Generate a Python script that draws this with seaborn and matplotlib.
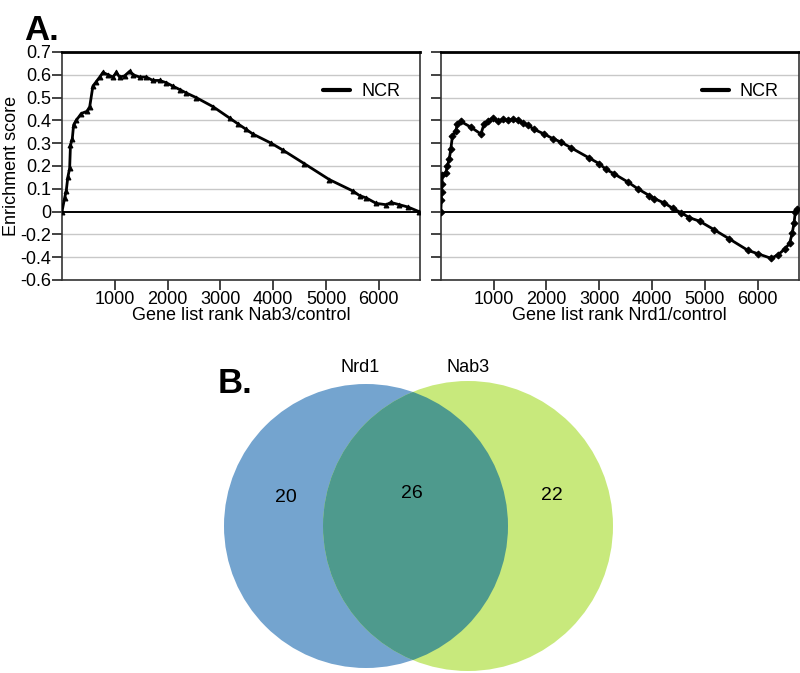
import numpy as np
import matplotlib
matplotlib.use("Agg")
import matplotlib.pyplot as plt
import seaborn as sns
from matplotlib.lines import Line2D
from matplotlib.patches import Circle

sns.set_style("white")
plt.rcParams['font.family'] = ['Liberation Sans', 'DejaVu Sans']
plt.rcParams['text.color'] = 'black'
plt.rcParams['axes.labelcolor'] = 'black'
plt.rcParams['xtick.color'] = 'black'
plt.rcParams['ytick.color'] = 'black'

# Running enrichment score, NCR gene set, Nab3/control ranking
nab3_rank = [0, 50, 80, 110, 145, 160, 195, 220, 270, 365, 475, 525, 585, 650, 715, 775,
             870, 965, 1030, 1090, 1185, 1280, 1345, 1470, 1595, 1720, 1850, 1975, 2100,
             2230, 2355, 2540, 2860, 3175, 3330, 3490, 3615, 3960, 4180, 4590, 5065, 5510,
             5635, 5760, 5950, 6140, 6230, 6390, 6550, 6760]
nab3_es = [0.0, 0.06, 0.09, 0.15, 0.19, 0.29, 0.32, 0.38, 0.40, 0.43, 0.44, 0.46, 0.55,
           0.57, 0.59, 0.61, 0.60, 0.59, 0.61, 0.59, 0.595, 0.615, 0.60, 0.59, 0.59, 0.575,
           0.575, 0.565, 0.55, 0.535, 0.52, 0.50, 0.46, 0.41, 0.385, 0.36, 0.34, 0.30, 0.27,
           0.21, 0.14, 0.09, 0.07, 0.06, 0.036, 0.03, 0.04, 0.03, 0.02, 0.0]

# Running enrichment score, NCR gene set, Nrd1/control ranking
nrd1_rank = [0, 10, 15, 20, 30, 95, 125, 160, 190, 220, 285, 315, 380, 570, 760, 820, 885,
             980, 1075, 1170, 1265, 1360, 1455, 1550, 1645, 1770, 1960, 2120, 2275, 2465,
             2810, 3000, 3130, 3285, 3540, 3730, 3950, 4045, 4235, 4390, 4550, 4710, 4900,
             5180, 5465, 5815, 6005, 6255, 6385, 6510, 6605, 6655, 6690, 6715, 6740]
nrd1_es = [0.0, 0.05, 0.085, 0.12, 0.16, 0.17, 0.20, 0.23, 0.275, 0.33, 0.355, 0.385, 0.395,
           0.37, 0.34, 0.385, 0.395, 0.41, 0.395, 0.405, 0.40, 0.405, 0.40, 0.39, 0.38, 0.36,
           0.34, 0.32, 0.305, 0.28, 0.235, 0.21, 0.185, 0.165, 0.13, 0.10, 0.07, 0.057, 0.037,
           0.015, -0.01, -0.054, -0.084, -0.16, -0.24, -0.34, -0.37, -0.41, -0.38, -0.33,
           -0.28, -0.19, -0.10, 0.0, 0.01]

y_ticks = [0.7, 0.6, 0.5, 0.4, 0.3, 0.2, 0.1, 0, -0.2, -0.4, -0.6]
x_ticks = [1000, 2000, 3000, 4000, 5000, 6000]

venn_sets = ["Nrd1", "Nab3"]
venn_counts = [20, 26, 22]  # Nrd1 only, both, Nab3 only


# the y axis is squeezed below zero (each grid step there is 0.2)
def fwd(y):
    y = np.asarray(y, dtype=float)
    return np.where(y >= 0, y, y / 2)


def inv(u):
    u = np.asarray(u, dtype=float)
    return np.where(u >= 0, u, u * 2)


fig = plt.figure(figsize=(8, 6.73), dpi=100)
ax1 = fig.add_axes([0.0775, 0.584, 0.4475, 0.3388])
ax2 = fig.add_axes([0.551, 0.584, 0.4475, 0.3388])

panels = [(ax1, nab3_rank, nab3_es, "^", "Gene list rank Nab3/control"),
          (ax2, nrd1_rank, nrd1_es, "D", "Gene list rank Nrd1/control")]
for ax, rank, es, mk, xlab in panels:
    ax.set_yscale("function", functions=(fwd, inv))
    for t in y_ticks:
        if t != 0:
            ax.axhline(t, color="#c8c8c8", lw=1, zorder=0)
    ax.axhline(0, color="black", lw=1.4, zorder=1)
    sns.lineplot(x=rank, y=es, ax=ax, color="black", lw=2, marker=mk, markersize=3.5,
                 markeredgecolor="black", zorder=3)
    ax.set_ylim(-0.6, 0.7)
    ax.set_xlim(0, 6780)
    ax.set_yticks(y_ticks)
    ax.set_xticks(x_ticks)
    ax.set_xticklabels([str(v) for v in x_ticks], fontsize=13)
    ax.set_xlabel(xlab, fontsize=13, labelpad=-1)
    ax.tick_params(axis="both", direction="out", length=7, width=1.2, color="#222222",
                   left=True, bottom=True, pad=1)
    for side in ["left", "right", "bottom"]:
        ax.spines[side].set_color("#333333")
        ax.spines[side].set_linewidth(1.2)
    ax.spines["top"].set_color("black")
    ax.spines["top"].set_linewidth(2)
    ax.legend(handles=[Line2D([0], [0], color="black", lw=3)], labels=["NCR"],
              loc="upper right", bbox_to_anchor=(0.99, 0.935), frameon=False, fontsize=13,
              handlelength=1.5, handletextpad=0.6)

ax1.set_yticklabels([f"{v:g}" for v in y_ticks], fontsize=13)
ax1.set_ylabel("Enrichment score", fontsize=13, labelpad=0)
ax2.set_yticklabels([])
ax2.set_ylabel("")

fig.text(0.03, 0.955, "A.", fontsize=25, fontweight="bold", va="center")

# Venn diagram, drawn in image pixel coordinates
axv = fig.add_axes([0, 0, 1, 320 / 673])
axv.set_xlim(0, 800)
axv.set_ylim(673, 353)
axv.axis("off")
c_nrd1 = Circle((366, 526), 142, facecolor="#74a4cf", edgecolor="none")
c_nab3 = Circle((468, 526), 145, facecolor="#c8e97c", edgecolor="none")
c_both = Circle((468, 526), 145, facecolor="#4e9a8d", edgecolor="none")
axv.add_patch(c_nrd1)
axv.add_patch(c_nab3)
axv.add_patch(c_both)
c_both.set_clip_path(c_nrd1)

axv.text(360, 367, venn_sets[0], fontsize=13, ha="center", va="center")
axv.text(468, 367, venn_sets[1], fontsize=13, ha="center", va="center")
for (xx, yy), n in zip([(286, 497), (412, 494), (552, 495)], venn_counts):
    axv.text(xx, yy, str(n), fontsize=14, ha="center", va="center")
fig.text(0.272, 0.43, "B.", fontsize=25, fontweight="bold", va="center")

fig.savefig("out.png", dpi=100)
